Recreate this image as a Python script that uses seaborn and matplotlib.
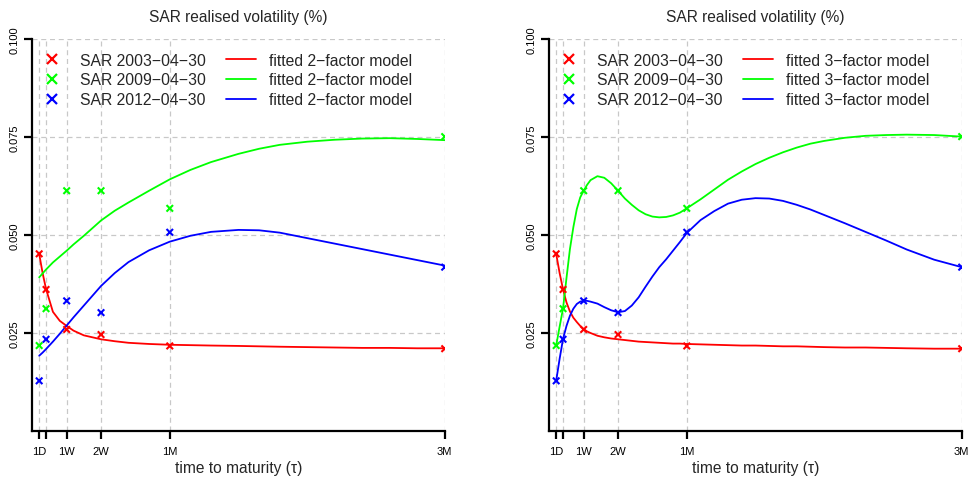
import numpy as np
import pandas as pd
import matplotlib
matplotlib.use('Agg')
import matplotlib.pyplot as plt
from matplotlib.lines import Line2D
import seaborn as sns

# maturities in business days (1D, 2D, 1W, 2W, 1M, 3M)
mat_days = [1, 2, 5, 10, 20, 60]
tick_labels = ['1D', '', '1W', '2W', '1M', '3M']
dates = ['2003\u221204\u221230', '2009\u221204\u221230', '2012\u221204\u221230']

# observed realised vols
sar_2003 = [0.0452, 0.0361, 0.0259, 0.0246, 0.0217, 0.0210]
sar_2009 = [0.0218, 0.0312, 0.0613, 0.0613, 0.0568, 0.0751]
sar_2012 = [0.0128, 0.0234, 0.0332, 0.0302, 0.0507, 0.0418]

# fitted 2-factor model curves
fit2_x = [1, 1.5, 2, 3, 4, 5, 6, 7.5, 10, 12, 14, 17, 20, 23, 26, 30,
          33, 36, 40, 44, 48, 52, 56, 60]
fit2_2003 = [0.0452, 0.0403, 0.0362, 0.0304, 0.0281, 0.0268, 0.0256, 0.0244,
             0.0234, 0.0229, 0.0225, 0.0222, 0.0220, 0.0219, 0.0218, 0.0217,
             0.0216, 0.0215, 0.0214, 0.0213, 0.0212, 0.0212, 0.0211, 0.0211]
fit2_2009 = [0.0392, 0.0402, 0.0412, 0.0430, 0.0445, 0.0460, 0.0476, 0.0498,
             0.0537, 0.0562, 0.0583, 0.0613, 0.0642, 0.0666, 0.0686, 0.0707,
             0.0720, 0.0730, 0.0738, 0.0743, 0.0746, 0.0747, 0.0745, 0.0742]
fit2_2012 = [0.0192, 0.0200, 0.0209, 0.0228, 0.0248, 0.0269, 0.0290, 0.0320,
             0.0370, 0.0403, 0.0431, 0.0461, 0.0483, 0.0498, 0.0508, 0.0513,
             0.0512, 0.0506, 0.0492, 0.0478, 0.0464, 0.0450, 0.0436, 0.0422]

# fitted 3-factor model curves
fit3_x = [1, 1.5, 2, 2.5, 3, 3.5, 4, 4.5, 5, 5.5, 6, 7, 8, 9, 10, 11, 12, 13,
          14, 15, 16, 17, 18, 19, 20, 22, 24, 26, 28, 30, 32, 34, 36, 38, 40,
          43, 46, 49, 52, 56, 60]
fit3_2003 = [0.0452, 0.0403, 0.0361, 0.0328, 0.0305, 0.0289, 0.0278, 0.0268,
             0.0260, 0.0254, 0.0250, 0.0243, 0.0239, 0.0236, 0.0234, 0.0232,
             0.0230, 0.0228, 0.0227, 0.0226, 0.0225, 0.0224, 0.0223, 0.0223,
             0.0222, 0.0221, 0.0220, 0.0219, 0.0218, 0.0218, 0.0217, 0.0216,
             0.0216, 0.0215, 0.0214, 0.0213, 0.0213, 0.0212, 0.0211, 0.0210,
             0.0210]
fit3_2009 = [0.0218, 0.0266, 0.0313, 0.0390, 0.0464, 0.0520, 0.0566, 0.0596,
             0.0613, 0.0628, 0.0640, 0.0650, 0.0646, 0.0632, 0.0613, 0.0593,
             0.0577, 0.0563, 0.0553, 0.0547, 0.0545, 0.0546, 0.0550, 0.0557,
             0.0568, 0.0591, 0.0616, 0.0641, 0.0662, 0.0681, 0.0697, 0.0711,
             0.0723, 0.0733, 0.0740, 0.0748, 0.0753, 0.0755, 0.0756, 0.0755,
             0.0751]
fit3_2012 = [0.0128, 0.0184, 0.0235, 0.0268, 0.0294, 0.0312, 0.0324, 0.0330,
             0.0332, 0.0332, 0.0330, 0.0325, 0.0316, 0.0308, 0.0303, 0.0306,
             0.0320, 0.0341, 0.0368, 0.0394, 0.0418, 0.0438, 0.0460, 0.0482,
             0.0505, 0.0538, 0.0561, 0.0580, 0.0590, 0.0594, 0.0593, 0.0587,
             0.0577, 0.0565, 0.0551, 0.0530, 0.0508, 0.0486, 0.0463, 0.0437,
             0.0418]

colors = ['#ff0000', '#00ff00', '#0000ff']

sns.set_style('white')
plt.rcParams['font.family'] = ['Liberation Sans', 'DejaVu Sans']

obs = pd.DataFrame({
    'days': mat_days * 3,
    'vol': sar_2003 + sar_2009 + sar_2012,
    'date': [d for d in dates for _ in mat_days],
})


def fit_frame(xs, ys_list):
    return pd.DataFrame({
        'days': xs * 3,
        'vol': sum(ys_list, []),
        'date': [d for d in dates for _ in xs],
    })


fit2 = fit_frame(fit2_x, [fit2_2003, fit2_2009, fit2_2012])
fit3 = fit_frame(fit3_x, [fit3_2003, fit3_2009, fit3_2012])

fig = plt.figure(figsize=(9.68, 4.81), dpi=100)
ax1 = fig.add_axes([32.3 / 968, 49 / 481, 412.4 / 968, 392 / 481])
ax2 = fig.add_axes([549.3 / 968, 49 / 481, 412.4 / 968, 392 / 481])

for ax, fit, nfac in [(ax1, fit2, 2), (ax2, fit3, 3)]:
    ax.set_xlim(0, 60)
    ax.set_ylim(0, 0.1)
    ax.set_xticks(mat_days)
    ax.set_xticklabels(tick_labels)
    ax.set_yticks([0.025, 0.05, 0.075, 0.1])
    ax.set_yticklabels(['0.025', '0.050', '0.075', '0.100'], rotation=90, va='center')
    ax.grid(True, color='#c8c8c8', linestyle=(0, (4, 3)), linewidth=0.9)
    ax.set_axisbelow(True)

    sns.lineplot(data=fit, x='days', y='vol', hue='date', palette=colors,
                 linewidth=1.3, legend=False, ax=ax)
    sns.scatterplot(data=obs, x='days', y='vol', hue='date', palette=colors,
                    marker='x', s=22, linewidth=1.5, legend=False, ax=ax, zorder=3)

    for side in ['top', 'right']:
        ax.spines[side].set_visible(False)
    for side in ['left', 'bottom']:
        ax.spines[side].set_linewidth(1.6)
        ax.spines[side].set_color('black')
    ax.tick_params(axis='both', direction='out', length=6, width=1.6, colors='black',
                   labelsize=8, left=True, bottom=True)
    ax.tick_params(axis='x', pad=5)
    ax.tick_params(axis='y', pad=3)

    ax.set_title('SAR realised volatility (%)', fontsize=11.2, pad=13)
    ax.set_xlabel('time to maturity (\u03c4)', fontsize=11.2, labelpad=3)
    ax.set_ylabel('')

    handles = [Line2D([], [], color=c, marker='x', linestyle='none', markersize=7,
                      markeredgewidth=1.6) for c in colors]
    handles += [Line2D([], [], color=c, linewidth=1.3) for c in colors]
    labels = ['SAR ' + d for d in dates]
    labels += ['fitted %d\u2212factor model' % nfac] * 3
    ax.legend(handles, labels, ncol=2, loc='upper left', bbox_to_anchor=(0.012, 0.965),
              frameon=False, fontsize=11.3, handlelength=1.9, handletextpad=0.85,
              columnspacing=1.25, labelspacing=0.3, borderpad=0, borderaxespad=0)

fig.savefig('out.png', dpi=100)
